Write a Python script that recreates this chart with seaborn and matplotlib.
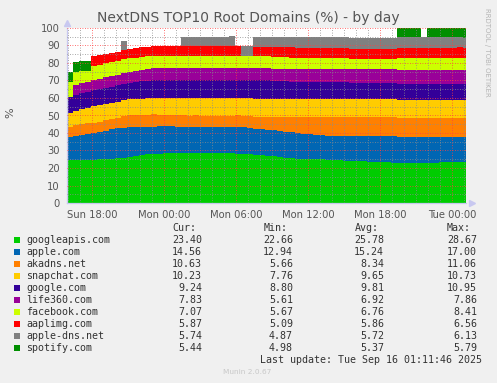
import numpy as np
import pandas as pd
import matplotlib
matplotlib.use("Agg")
import matplotlib.pyplot as plt
import seaborn as sns
from matplotlib.patches import Rectangle

# ---------------- data ----------------
domains = ["googleapis.com", "apple.com", "akadns.net", "snapchat.com", "google.com",
           "life360.com", "facebook.com", "aaplimg.com", "apple-dns.net", "spotify.com"]
colors = ["#00CC00", "#0066B3", "#FF8000", "#FFCC00", "#330099",
          "#990099", "#CCFF00", "#FF0000", "#808080", "#008F00"]

cur_vals = ["23.40", "14.56", "10.63", "10.23", "9.24", "7.83", "7.07", "5.87", "5.74", "5.44"]
min_vals = ["22.66", "12.94", "5.66", "7.76", "8.80", "5.61", "5.67", "5.09", "4.87", "4.98"]
avg_vals = ["25.78", "15.24", "8.34", "9.65", "9.81", "6.92", "6.76", "5.86", "5.72", "5.37"]
max_vals = ["28.67", "17.00", "11.06", "10.73", "10.95", "7.86", "8.41", "6.56", "6.13", "5.79"]

# samples every 30 min from Sun 15:55 (hours since Sun 00:00), last ends Tue 01:10
t_start = 15 + 55 / 60
t_end = 48 + 1 + 10 / 60

googleapis = [24.6, 24.6, 24.7, 24.7, 24.8, 24.9, 25.0, 25.3, 25.7, 26.0,
              26.5, 27.0, 27.4, 27.8, 28.1, 28.2, 28.3, 28.4, 28.5, 28.6,
              28.5, 28.6, 28.5, 28.5, 28.4, 28.3, 28.4, 28.3, 28.2, 28.0,
              27.8, 27.6, 27.3, 27.0, 26.6, 26.2, 25.8, 25.5, 25.4, 25.2,
              25.1, 25.0, 25.0, 24.8, 24.5, 24.3, 24.1, 24.0, 23.9, 23.8,
              23.7, 23.5, 23.4, 23.2, 23.0, 22.8, 22.7, 22.7, 22.7, 22.9,
              23.0, 23.1, 23.2, 23.3, 23.3, 23.4, 23.4]
apple = [13.0, 13.4, 13.9, 14.6, 15.2, 15.7, 16.3, 16.7, 16.9, 17.0,
         16.7, 16.4, 16.2, 15.8, 15.6, 15.8, 15.9, 15.6, 15.1, 14.8,
         14.9, 14.8, 14.9, 14.9, 15.0, 15.1, 15.0, 15.1, 15.2, 15.2,
         15.0, 14.9, 14.8, 14.8, 14.9, 14.8, 14.8, 14.8, 14.5, 14.3,
         14.1, 14.0, 13.8, 13.7, 13.9, 14.0, 14.2, 14.3, 14.4, 14.5,
         14.6, 14.8, 14.9, 15.1, 15.3, 15.1, 15.2, 15.2, 15.2, 15.0,
         14.9, 14.8, 14.7, 14.6, 14.6, 14.5, 14.56]
akadns = [6.0, 6.3, 6.4, 6.3, 6.0, 5.9, 5.9, 5.9, 6.2, 6.6,
          6.9, 6.9, 6.9, 6.9, 6.9, 6.5, 6.2, 6.2, 6.5, 6.6,
          6.6, 6.6, 6.6, 6.6, 6.6, 6.6, 6.6, 6.6, 6.6, 6.6,
          6.9, 6.9, 7.0, 7.1, 7.4, 7.9, 8.3, 8.6, 9.0, 9.4,
          9.7, 9.9, 10.1, 10.4, 10.5, 10.6, 10.6, 10.6, 10.6, 10.6,
          10.6, 10.6, 10.6, 10.6, 10.6, 10.7, 10.7, 10.7, 10.7, 10.7,
          10.7, 10.7, 10.7, 10.7, 10.7, 10.7, 10.63]
snapchat = [7.8, 8.2, 8.5, 8.7, 9.2, 9.5, 9.4, 9.5, 9.1, 9.0,
            9.1, 9.1, 9.1, 9.3, 9.4, 9.6, 9.8, 9.6, 9.7, 9.8,
            9.8, 9.8, 9.8, 9.8, 9.8, 9.8, 9.8, 9.8, 9.8, 10.0,
            10.1, 10.1, 10.4, 10.6, 10.6, 10.6, 10.6, 10.6, 10.6, 10.6,
            10.6, 10.6, 10.6, 10.6, 10.6, 10.6, 10.4, 10.4, 10.4, 10.4,
            10.4, 10.4, 10.4, 10.4, 10.4, 10.4, 10.4, 10.4, 10.4, 10.4,
            10.4, 10.4, 10.4, 10.4, 10.3, 10.3, 10.23]
google = [9.3, 9.2, 9.2, 9.2, 9.1, 9.0, 9.2, 9.1, 9.3, 9.3,
          9.2, 9.6, 9.9, 10.0, 10.1, 10.2, 10.1, 10.5, 10.5, 10.5,
          10.5, 10.5, 10.5, 10.5, 10.5, 10.5, 10.5, 10.5, 10.5, 10.5,
          10.5, 10.8, 10.8, 10.8, 10.3, 10.3, 10.3, 9.8, 9.8, 9.8,
          9.8, 9.8, 9.8, 9.8, 9.8, 9.8, 10.0, 9.3, 9.3, 9.3,
          9.3, 9.3, 9.3, 9.3, 9.3, 9.1, 9.1, 9.1, 9.1, 9.1,
          9.1, 9.1, 9.1, 9.1, 9.2, 9.2, 9.24]
life360 = [0.0, 5.7, 5.7, 5.8, 5.9, 6.0, 6.0, 6.1, 6.1, 6.1,
           6.6, 6.6, 6.7, 6.8, 6.9, 6.7, 6.7, 6.7, 6.7, 6.7,
           6.7, 6.7, 6.7, 6.7, 6.7, 6.7, 6.7, 6.7, 6.7, 6.7,
           6.7, 6.7, 6.7, 6.7, 6.6, 6.6, 6.6, 7.1, 7.1, 7.1,
           7.1, 7.1, 7.1, 7.1, 7.1, 7.1, 7.1, 7.8, 7.8, 7.8,
           7.8, 7.8, 7.8, 7.8, 7.8, 7.8, 7.8, 7.8, 7.8, 7.8,
           7.8, 7.8, 7.8, 7.8, 7.8, 7.8, 7.83]
facebook = [8.4, 7.6, 7.2, 6.3, 8.3, 8.0, 8.0, 7.9, 7.9, 8.0,
            7.7, 7.5, 7.3, 7.2, 7.1, 7.0, 7.0, 7.0, 7.0, 7.0,
            7.0, 7.0, 7.0, 7.0, 7.0, 7.0, 7.0, 7.0, 7.0, 7.0,
            7.0, 7.0, 7.0, 7.0, 6.8, 6.8, 6.8, 6.3, 6.3, 6.3,
            6.3, 6.3, 6.3, 6.3, 6.3, 6.3, 6.3, 5.7, 5.7, 5.7,
            5.7, 5.7, 5.7, 5.7, 5.7, 7.0, 7.0, 7.0, 7.0, 7.0,
            7.0, 7.0, 7.0, 7.0, 7.0, 7.1, 7.07]
aaplimg = [0.0, 0.0, 0.0, 0.0, 5.6, 5.4, 5.2, 5.2, 5.3, 5.2,
           5.2, 5.4, 5.6, 5.6, 5.6, 5.7, 5.7, 5.7, 5.7, 5.7,
           5.7, 5.7, 5.7, 5.7, 5.7, 5.7, 5.7, 5.7, 5.7, 0.0,
           0.0, 5.3, 5.3, 5.3, 6.1, 6.1, 6.1, 6.6, 5.9, 5.9,
           5.9, 5.9, 5.9, 5.9, 5.9, 5.9, 5.9, 5.9, 5.9, 5.9,
           5.9, 5.9, 5.9, 5.9, 5.9, 5.9, 5.9, 5.9, 5.9, 5.9,
           5.9, 5.9, 5.9, 5.9, 5.9, 5.9, 5.87]
apple_dns = [0.0, 0.0, 0.0, 0.0, 0.0, 0.0, 0.0, 0.0, 0.0, 5.3,
             0.0, 0.0, 0.0, 0.0, 0.0, 0.0, 0.0, 0.0, 0.0, 5.0,
             5.0, 5.0, 5.0, 5.0, 5.0, 5.0, 5.0, 5.9, 0.0, 5.7,
             5.7, 5.4, 5.4, 5.4, 5.4, 5.4, 5.4, 5.4, 6.1, 6.1,
             6.1, 6.1, 6.1, 6.1, 6.1, 6.1, 6.1, 6.1, 6.1, 6.1,
             6.1, 6.1, 6.1, 6.1, 6.1, 5.8, 5.8, 5.8, 5.8, 5.8,
             5.8, 5.8, 5.8, 5.8, 5.8, 5.8, 5.74]
spotify = [5.6, 5.8, 5.8, 5.8, 0.0, 0.0, 0.0, 0.0, 0.0, 0.0,
           0.0, 0.0, 0.0, 0.0, 0.0, 0.0, 0.0, 0.0, 0.0, 0.0,
           0.0, 0.0, 0.0, 0.0, 0.0, 0.0, 0.0, 0.0, 0.0, 0.0,
           0.0, 0.0, 0.0, 0.0, 0.0, 0.0, 0.0, 0.0, 0.0, 0.0,
           0.0, 0.0, 0.0, 0.0, 0.0, 0.0, 0.0, 0.0, 0.0, 0.0,
           0.0, 0.0, 0.0, 0.0, 0.0, 5.3, 5.3, 5.3, 5.3, 0.0,
           5.4, 5.4, 5.4, 5.4, 5.4, 5.4, 5.44]

series = [googleapis, apple, akadns, snapchat, google,
          life360, facebook, aaplimg, apple_dns, spotify]

x_tick_pos = [18, 24, 30, 36, 42, 48]
x_tick_labels = ["Sun 18:00", "Mon 00:00", "Mon 06:00", "Mon 12:00", "Mon 18:00", "Tue 00:00"]

# ---------------- build table ----------------
n = len(googleapis)
edges = np.append(t_start + 0.5 * np.arange(n), t_end)
mids = (edges[:-1] + edges[1:]) / 2
rows = []
for name, vals in zip(domains, series):
    for t, v in zip(mids, vals):
        rows.append({"t": t, "v": v, "domain": name})
df = pd.DataFrame(rows)

# ---------------- style ----------------
sns.set_style("white")
plt.rcParams["font.family"] = ["DejaVu Sans"]

W, H = 497, 383
fig = plt.figure(figsize=(W / 100, H / 100), dpi=100, facecolor="#f0f0f0")
x0, x1, y0, y1 = 67, 466, 28, 203
ax = fig.add_axes([x0 / W, 1 - y1 / H, (x1 - x0) / W, (y1 - y0) / H])
ax.set_facecolor("white")

sns.histplot(data=df, x="t", weights="v", hue="domain", hue_order=domains[::-1],
             palette=dict(zip(domains, colors)), multiple="stack", bins=list(edges),
             element="step", fill=True, alpha=1, linewidth=0, legend=False, ax=ax)

ax.set_xlim(t_start, t_end)
ax.set_ylim(0, 100)
ax.set_xlabel("")
ax.set_ylabel("")

ax.set_xticks(x_tick_pos)
ax.set_xticklabels(x_tick_labels)
ax.set_xticks(np.arange(16, 50, 1), minor=True)
ax.set_yticks(np.arange(0, 101, 10))
ax.set_yticks(np.arange(5, 100, 10), minor=True)

ax.set_axisbelow(False)
ax.grid(which="minor", color=(0.55, 0.55, 0.55, 0.28), linestyle=(0, (1, 2)), linewidth=0.6)
ax.grid(which="major", color=(1.0, 0.25, 0.25, 0.28), linestyle=(0, (1, 2)), linewidth=0.6)

ax.tick_params(which="major", length=2, width=0.6, color="#ee9999", labelsize=7.2,
               labelcolor="#555555", pad=3.2)
ax.tick_params(which="minor", length=1.5, width=0.5, color="#bbbbbb")
for s in ["top", "right"]:
    ax.spines[s].set_visible(False)
for s in ["left", "bottom"]:
    ax.spines[s].set_color("#c8c8f0")
    ax.spines[s].set_linewidth(0.9)
ax.plot([0], [1.03], marker="^", ms=4, color="#c8c8f0", transform=ax.transAxes, clip_on=False)
ax.plot([1.015], [0], marker=">", ms=4, color="#c8c8f0", transform=ax.transAxes, clip_on=False)

# ---------------- texts ----------------
def fy(y):
    return 1 - y / H

fig.text(248.5 / W, fy(18), "NextDNS TOP10 Root Domains (%) - by day",
         ha="center", va="center", fontsize=10, color="#555555")
fig.text(10 / W, fy(113), "%", rotation=90, ha="center", va="center",
         fontsize=8, color="#555555")
fig.text(487 / W, fy(52), "RRDTOOL / TOBI OETIKER", rotation=270, ha="center",
         va="center", fontsize=5, color="#b4b4b4")

mono = dict(family="DejaVu Sans Mono", fontsize=7.2, color="#333333", va="center")
col_right = [202, 293, 384, 477]
col_head = [172, 264, 355, 447]
for xh, lab in zip(col_head, ["Cur:", "Min:", "Avg:", "Max:"]):
    fig.text(xh / W, fy(228.3), lab, ha="left", **mono)

for i, name in enumerate(domains):
    yc = 240 + 12 * i
    fig.patches.append(Rectangle((14 / W, fy(yc + 3)), 6 / W, 6 / H,
                                 transform=fig.transFigure, facecolor=colors[i],
                                 edgecolor="none"))
    fig.text(26 / W, fy(yc), name, ha="left", **mono)
    for xr, vals in zip(col_right, [cur_vals, min_vals, avg_vals, max_vals]):
        fig.text(xr / W, fy(yc), vals[i], ha="right", **mono)

fig.text(482 / W, fy(359.7), "Last update: Tue Sep 16 01:11:46 2025", ha="right", **mono)
fig.text(247.5 / W, fy(372), "Munin 2.0.67", ha="center", va="center",
         fontsize=5.3, color="#c8c8c8")

fig.savefig("out.png", dpi=100, facecolor=fig.get_facecolor())
